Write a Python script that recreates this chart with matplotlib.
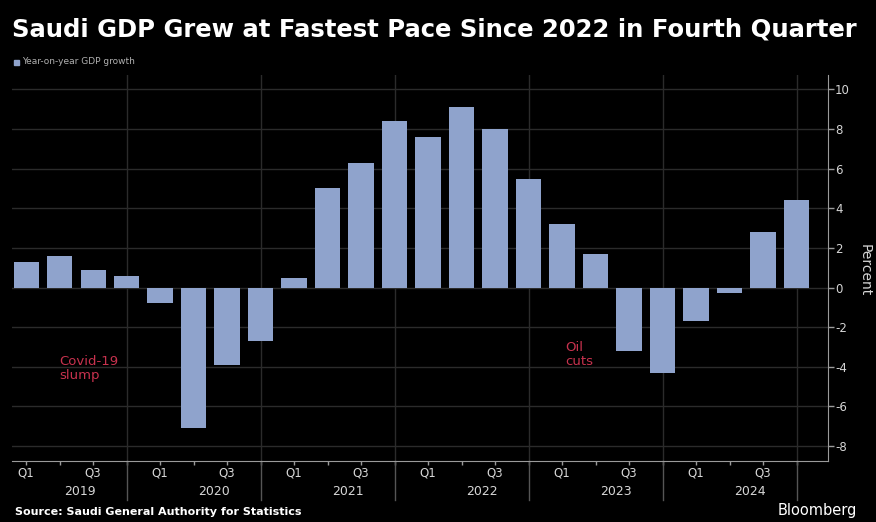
import numpy as np
import matplotlib.pyplot as plt

# Year-on-year GDP growth, percent, 2019 Q1 .. 2024 Q4
years = ["2019", "2020", "2021", "2022", "2023", "2024"]
quarters = ["Q1", "Q2", "Q3", "Q4"]
growth = [1.3, 1.6, 0.9, 0.6,
          -0.8, -7.1, -3.9, -2.7,
          0.5, 5.0, 6.3, 8.4,
          7.6, 9.1, 8.0, 5.5,
          3.2, 1.7, -3.2, -4.3,
          -1.7, -0.3, 2.8, 4.4]
yticks = [-8, -6, -4, -2, 0, 2, 4, 6, 8, 10]

BG = "black"
BAR = "#8fa3cc"
GRID = "#2b2b2b"
AXIS = "#9a9a9a"
TXT = "#d6d6d6"
RED = "#c8324e"

W, H = 876, 522
fig = plt.figure(figsize=(W / 100, H / 100), dpi=100, facecolor=BG)

# plot area in pixels: x 12..828, y 75..461
ax = fig.add_axes([12 / W, (H - 461) / H, 816 / W, 386 / H], facecolor=BG)

x = np.arange(len(growth))
ax.bar(x, growth, width=0.75, color=BAR, zorder=3)

ax.set_xlim(-0.42, 23.94)
ax.set_ylim(-8.76, 10.73)

for y in yticks:
    ax.axhline(y, color=GRID, lw=1, zorder=1)
seps = [4 * i + 3 for i in range(len(years))]
for s in seps:
    ax.axvline(s, color=GRID, lw=1, zorder=1)

# right y axis
ax.yaxis.tick_right()
ax.set_yticks(yticks)
ax.set_yticklabels([str(v) for v in yticks], color=TXT, fontsize=8.5)
ax.tick_params(axis="y", colors=AXIS, length=4, width=1, pad=1, labelcolor=TXT)
for sp in ["left", "top"]:
    ax.spines[sp].set_visible(False)
ax.spines["right"].set_color(AXIS)
ax.spines["bottom"].set_color(AXIS)

# x axis: small ticks at each quarter, labels Q1 / Q3 and years
ax.set_xticks(x)
ax.set_xticklabels([quarters[i % 4] if i % 2 == 0 else "" for i in x],
                   color=TXT, fontsize=8.5)
ax.tick_params(axis="x", colors=AXIS, length=3, width=1, pad=1, labelcolor=TXT)

for i, yr in enumerate(years):
    ax.text(4 * i + 1.6, -0.078, yr, transform=ax.get_xaxis_transform(),
            ha="center", va="center", color=TXT, fontsize=9)
for s in seps:
    ax.plot([s, s], [0, -0.10], transform=ax.get_xaxis_transform(),
            color="#555555", lw=1, clip_on=False)

# annotations
ax.text(1.0, -3.4, "Covid-19\nslump", color=RED, fontsize=9.5,
        ha="left", va="top", linespacing=1.1)
ax.text(16.1, -2.7, "Oil\ncuts", color=RED, fontsize=9.5,
        ha="left", va="top", linespacing=1.1)

fig.text(858 / W, 1 - 270 / H, "Percent", rotation=270,
         ha="left", va="center", color=TXT, fontsize=10)

# title, legend, footer
fig.text(12 / W, 1 - 30 / H, "Saudi GDP Grew at Fastest Pace Since 2022 in Fourth Quarter",
         color="white", fontsize=17.5, fontweight="bold", va="center", ha="left")
fig.patches.append(plt.Rectangle((14 / W, 1 - 65 / H), 5 / W, 5 / H,
                                 transform=fig.transFigure, color=BAR))
fig.text(22 / W, 1 - 62 / H, "Year-on-year GDP growth", color="#b0b0b0",
         fontsize=6.5, va="center", ha="left")
fig.text(15 / W, 1 - 512 / H, "Source: Saudi General Authority for Statistics",
         color="white", fontsize=8, fontweight="bold", va="center", ha="left")
fig.text(778 / W, 1 - 510 / H, "Bloomberg", color="white", fontsize=10.5,
         va="center", ha="left")

fig.savefig("out.png", dpi=100, facecolor=BG)
